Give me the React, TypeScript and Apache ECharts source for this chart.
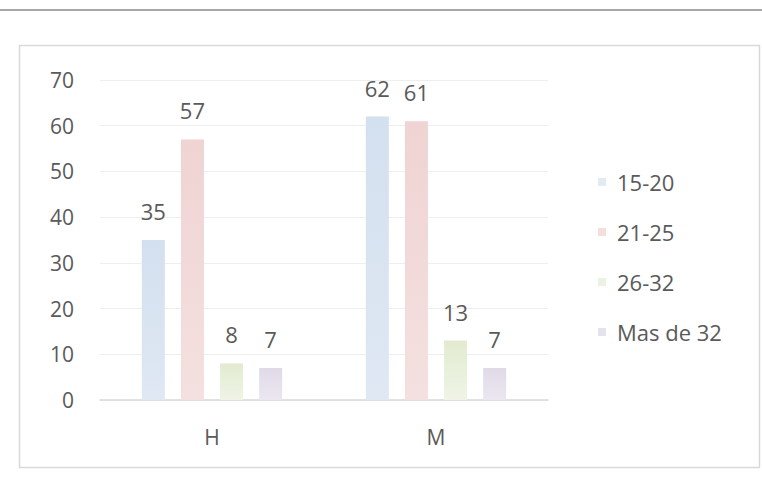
import React, { useEffect, useRef } from "react";
import * as echarts from "echarts";

const categories = ["H", "M"];
const seriesNames = ["15-20", "21-25", "26-32", "Mas de 32"];
const values15_20 = [35, 62];
const values21_25 = [57, 61];
const values26_32 = [8, 13];
const valuesMas32 = [7, 7];
const yTicks = [0, 10, 20, 30, 40, 50, 60, 70];

const colors = [
  ["#d3e0ef", "#dfe8f3"],
  ["#f0d3d3", "#f4e0e0"],
  ["#e2ebd1", "#eff4e6"],
  ["#e0dae8", "#ebe7f0"],
];
const legendColors = ["#e3eaf4", "#f4dede", "#ecf2e2", "#e6e2ec"];

export default function App() {
  const ref = useRef<HTMLDivElement>(null);
  useEffect(() => {
    if (!ref.current) return;
    const chart = echarts.init(ref.current, undefined, { renderer: "svg" });
    const all = [values15_20, values21_25, values26_32, valuesMas32];
    const font = "'Open Sans', Lato, sans-serif";
    const txt = "#5a5a5a";
    chart.setOption({
      animation: false,
      backgroundColor: "#ffffff",
      textStyle: { fontFamily: font },
      graphic: [
        {
          type: "line",
          shape: { x1: 0, y1: 10, x2: 762, y2: 10 },
          style: { stroke: "#a8a8a8", lineWidth: 2 },
        },
        {
          type: "rect",
          shape: { x: 19.5, y: 45.5, width: 740, height: 422 },
          style: { fill: "none", stroke: "#d9d9d9", lineWidth: 1.5 },
        },
      ],
      grid: { left: 100, right: 214, top: 80, bottom: 82 },
      legend: {
        orient: "vertical",
        left: 593,
        top: 166,
        itemWidth: 8,
        itemHeight: 8,
        itemGap: 28,
        icon: "rect",
        data: seriesNames.map((n, i) => ({ name: n, itemStyle: { color: legendColors[i] } })),
        textStyle: { fontSize: 22, color: txt, fontFamily: font, padding: [0, 0, 0, 6] },
      },
      xAxis: {
        type: "category",
        data: categories,
        axisLine: { lineStyle: { color: "#d9d9d9", width: 1.5 } },
        axisTick: { show: false },
        axisLabel: { fontSize: 21, color: txt, margin: 26, fontFamily: font },
      },
      yAxis: {
        type: "value",
        min: yTicks[0],
        max: yTicks[yTicks.length - 1],
        interval: 10,
        axisLine: { show: false },
        axisTick: { show: false },
        splitLine: { lineStyle: { color: "#eeeeee", width: 1 } },
        axisLabel: { fontSize: 21, color: txt, margin: 26, fontFamily: font },
      },
      series: seriesNames.map((name, i) => ({
        name,
        type: "bar",
        data: all[i],
        barWidth: 23,
        barGap: "70%",
        itemStyle: {
          color: new echarts.graphic.LinearGradient(0, 0, 0, 1, [
            { offset: 0, color: colors[i][0] },
            { offset: 1, color: colors[i][1] },
          ]),
        },
        label: {
          show: true,
          position: "top",
          distance: 18,
          fontSize: 22,
          color: txt,
          fontFamily: font,
        },
      })),
    });
    return () => chart.dispose();
  }, []);
  return (
    <div
      ref={ref}
      style={{ position: "fixed", left: 0, top: 0, width: 762, height: 482 }}
    />
  );
}
